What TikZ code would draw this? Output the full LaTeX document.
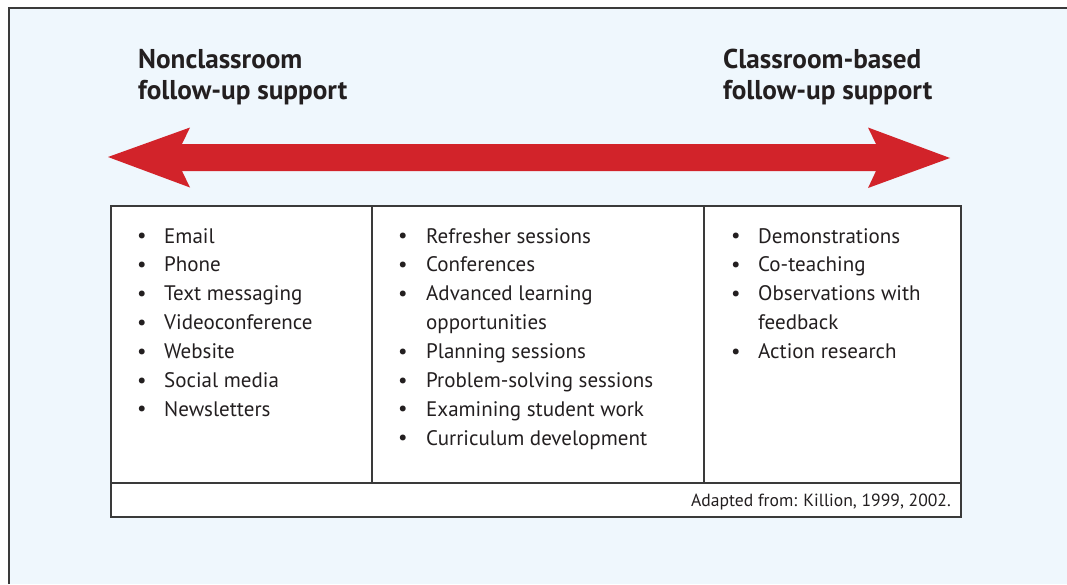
\documentclass[tikz,border=0pt]{standalone}
\usepackage{fontspec}
\setmainfont{PT Sans}
\usepackage{array}
\definecolor{panelbg}{HTML}{EFF7FD}
\definecolor{arrowred}{HTML}{D2232A}
\definecolor{ink}{HTML}{231F20}
\definecolor{rulegray}{HTML}{3A3A3A}
\tikzset{
  header/.style={anchor=base west, inner sep=0pt, align=left, text=ink,
    font=\fontsize{27.2}{31.5}\selectfont\bfseries},
  listcol/.style={anchor=base west, inner sep=0pt, text=ink,
    font=\fontsize{21}{28.9}\selectfont},
  footnote/.style={anchor=base east, inner sep=0pt, text=ink,
    font=\fontsize{17.6}{20}\selectfont},
  rule/.style={draw=rulegray, line width=1.2pt},
}
\newcommand{\bul}{\makebox[0pt][l]{\raisebox{0.5pt}{\textbullet}}}
\begin{document}
\begin{tikzpicture}[x=1pt,y=-1pt]
\useasboundingbox (0,0) rectangle (1067,584);
% panel
\fill[panelbg] (9,8) rectangle (1067,584);
\draw[draw=rulegray, line width=1.5pt] (9,584) -- (9,8) -- (1067,8);
% headers (anchor at baseline of last line)
\node[header] (hl) at (138,99.5) {Nonclassroom\\follow-up support};
\node[header] (hr) at (723,99.5) {Classroom-based\\follow-up support};
% double arrow
\fill[arrowred] (108,157) -- (190,127.5) -- (182,144) -- (876,144) -- (868,127.5)
  -- (950,158) -- (868,188) -- (876,171) -- (182,171) -- (190,187.5) -- cycle;
% table
\fill[white] (111,206) rectangle (961,517);
\draw[rule] (111,206) rectangle (961,517);
\draw[rule] (372,206) -- (372,483);
\draw[rule] (704,206) -- (704,483);
\draw[rule] (111,483) -- (961,483);
% columns
\node[listcol] (c1) at (137,243) {\begin{tabular}[t]{@{}p{27pt}@{}l@{}}
\bul & Email\\
\bul & Phone\\
\bul & Text messaging\\
\bul & Videoconference\\
\bul & Website\\
\bul & Social media\\
\bul & Newsletters
\end{tabular}};
\node[listcol] (c2) at (398,243) {\begin{tabular}[t]{@{}p{28pt}@{}l@{}}
\bul & Refresher sessions\\
\bul & Conferences\\
\bul & Advanced learning\\
 & opportunities\\
\bul & Planning sessions\\
\bul & Problem-solving sessions\\
\bul & Examining student work\\
\bul & Curriculum development
\end{tabular}};
\node[listcol] (c3) at (731,243) {\begin{tabular}[t]{@{}p{27pt}@{}l@{}}
\bul & Demonstrations\\
\bul & Co-teaching\\
\bul & Observations with\\
 & feedback\\
\bul & Action research
\end{tabular}};
\node[footnote] (src) at (951,506) {Adapted from: Killion, 1999, 2002.};
\end{tikzpicture}
\end{document}
